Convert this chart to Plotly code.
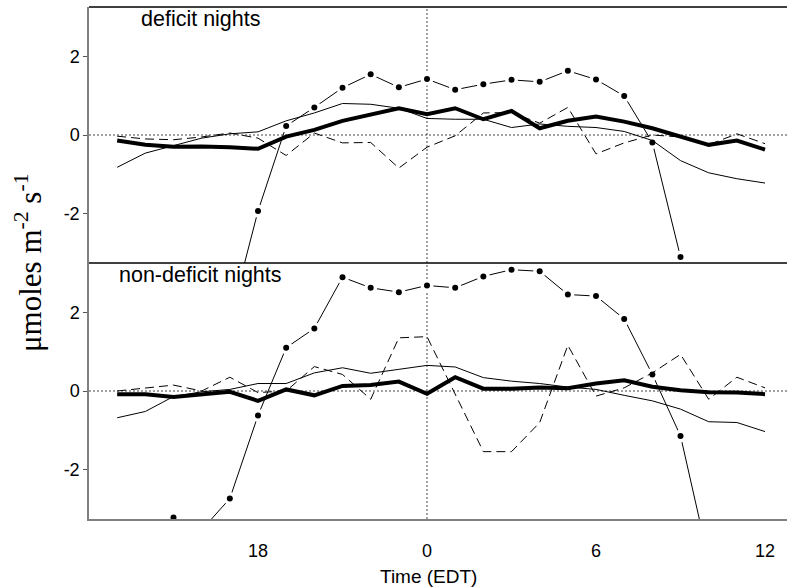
import plotly.graph_objects as go
from plotly.subplots import make_subplots

hours = list(range(13, 37))
tick_vals = [18, 24, 30, 36]
tick_text = ["18", "0", "6", "12"]
y_tick_vals = [-2, 0, 2]
y_tick_text = ["-2", "0", "2"]

# deficit nights (top panel)
thick_def = [-0.14, -0.25, -0.30, -0.29, -0.31, -0.35, -0.04, 0.13, 0.36, 0.51, 0.68, 0.53,
             0.68, 0.40, 0.61, 0.17, 0.36, 0.47, 0.34, 0.17, -0.04, -0.25, -0.14, -0.37]
thin_def = [-0.82, -0.46, -0.27, -0.08, 0.03, 0.08, 0.36, 0.56, 0.80, 0.78, 0.68, 0.42,
            0.40, 0.40, 0.19, 0.28, 0.22, 0.19, 0.09, -0.14, -0.65, -0.96, -1.11, -1.22]
dash_def = [-0.03, -0.10, -0.12, -0.05, 0.05, -0.08, -0.52, 0.05, -0.20, -0.19, -0.84, -0.31,
            -0.02, 0.56, 0.57, 0.30, 0.70, -0.48, -0.20, 0.00, -0.05, -0.25, 0.03, -0.22]
dot_def = [None, None, None, None, -4.7, -1.93, 0.23, 0.70, 1.20, 1.54, 1.21, 1.42,
           1.15, 1.29, 1.40, 1.35, 1.63, 1.41, 0.99, -0.19, -3.10, None, None, None]

# non-deficit nights (bottom panel)
thick_non = [-0.08, -0.08, -0.15, -0.08, -0.02, -0.25, 0.04, -0.11, 0.13, 0.15, 0.24, -0.07,
             0.35, 0.06, 0.06, 0.09, 0.07, 0.19, 0.27, 0.11, 0.02, -0.03, -0.04, -0.08]
thin_non = [-0.68, -0.52, -0.14, -0.02, 0.04, 0.19, 0.19, 0.46, 0.59, 0.45, 0.55, 0.65,
            0.61, 0.34, 0.25, 0.19, 0.10, 0.04, -0.11, -0.25, -0.46, -0.78, -0.80, -1.03]
dash_non = [0.00, 0.08, 0.15, 0.00, 0.35, -0.04, 0.00, 0.62, 0.42, -0.21, 1.35, 1.38,
            -0.10, -1.54, -1.54, -0.80, 1.16, -0.13, 0.08, 0.46, 0.93, -0.21, 0.35, 0.08]
dot_non = [None, None, -3.21, -3.53, -2.73, -0.62, 1.10, 1.59, 2.89, 2.62, 2.51, 2.68,
           2.62, 2.91, 3.08, 3.04, 2.45, 2.41, 1.83, 0.42, -1.14, -4.3, None, None]

panels = [
    (1, thick_def, thin_def, dash_def, dot_def),
    (2, thick_non, thin_non, dash_non, dot_non),
]

fig = make_subplots(rows=2, cols=1, shared_xaxes=True, vertical_spacing=0)

for row, thick, thin, dash, dots in panels:
    fig.add_trace(go.Scatter(x=hours, y=dots, mode="lines",
                             line=dict(color="black", width=1)), row=row, col=1)
    fig.add_trace(go.Scatter(x=hours, y=dots, mode="markers",
                             marker=dict(color="white", size=13)), row=row, col=1)
    fig.add_trace(go.Scatter(x=hours, y=thin, mode="lines",
                             line=dict(color="black", width=1)), row=row, col=1)
    fig.add_trace(go.Scatter(x=hours, y=dash, mode="lines",
                             line=dict(color="black", width=1, dash="9px,5px")), row=row, col=1)
    fig.add_trace(go.Scatter(x=hours, y=thick, mode="lines",
                             line=dict(color="black", width=4)), row=row, col=1)
    fig.add_trace(go.Scatter(x=hours, y=dots, mode="markers",
                             marker=dict(color="black", size=6)), row=row, col=1)

tickfont = dict(family="Liberation Sans, Arial, sans-serif", size=18, color="black")

for r in (1, 2):
    fig.update_yaxes(range=[-3.25, 3.25], tickvals=y_tick_vals, ticktext=y_tick_text,
                     ticks="outside", ticklen=4, tickcolor="#555", showgrid=False,
                     zeroline=False, showline=True, linecolor="#808080", linewidth=1.5,
                     tickfont=tickfont, row=r, col=1)
    fig.update_xaxes(range=[12, 36.78], tickvals=tick_vals, ticktext=tick_text,
                     showgrid=False, zeroline=False, tickfont=tickfont, row=r, col=1)
    yref = "y" if r == 1 else "y2"
    xref = "x" if r == 1 else "x2"
    fig.add_shape(type="line", xref=xref + " domain", yref=yref, x0=0, x1=1, y0=0, y1=0,
                  line=dict(color="#444", width=1, dash="2px,2px"), layer="below")
    fig.add_shape(type="line", xref=xref, yref=yref + " domain", x0=24, x1=24, y0=0, y1=1,
                  line=dict(color="#444", width=1, dash="2px,2px"), layer="below")

fig.update_xaxes(showticklabels=False, ticks="", row=1, col=1)
fig.update_xaxes(showline=True, linecolor="#808080", linewidth=1.5, ticks="outside",
                 ticklen=15, tickcolor="rgba(0,0,0,0)", row=2, col=1)

for yy in (1.0, 0.5):
    fig.add_shape(type="line", xref="paper", yref="paper", x0=0, x1=1, y0=yy, y1=yy,
                  line=dict(color="black", width=1.5))

W, H = 787, 587
L, T, B, R = 89, 7, 68, 0
pw, ph = W - L - R, H - T - B


def px(xp):
    return (xp - L) / pw


def py(yp):
    return (H - B - yp) / ph


sans = "Liberation Sans, Arial, sans-serif"
fig.add_annotation(text="deficit nights", xref="paper", yref="paper", x=px(139), y=py(19),
                   xanchor="left", yanchor="middle", showarrow=False,
                   font=dict(family=sans, size=21.5, color="black"))
fig.add_annotation(text="non-deficit nights", xref="paper", yref="paper", x=px(117), y=py(275),
                   xanchor="left", yanchor="middle", showarrow=False,
                   font=dict(family=sans, size=21.5, color="black"))
fig.add_annotation(text="Time (EDT)", xref="paper", yref="paper", x=px(428), y=py(576),
                   xanchor="center", yanchor="middle", showarrow=False,
                   font=dict(family=sans, size=19, color="black"))
fig.add_annotation(text="\u03bcmoles m<sup>-2</sup> s<sup>-1</sup>", xref="paper", yref="paper",
                   x=px(28), y=py(262), xanchor="center", yanchor="middle", textangle=-90,
                   showarrow=False,
                   font=dict(family="Liberation Serif, Times New Roman, serif", size=31,
                             color="black"))

fig.update_layout(width=W, height=H, margin=dict(l=L, r=R, t=T, b=B),
                  paper_bgcolor="white", plot_bgcolor="white", showlegend=False)

fig.write_html("out.html")
